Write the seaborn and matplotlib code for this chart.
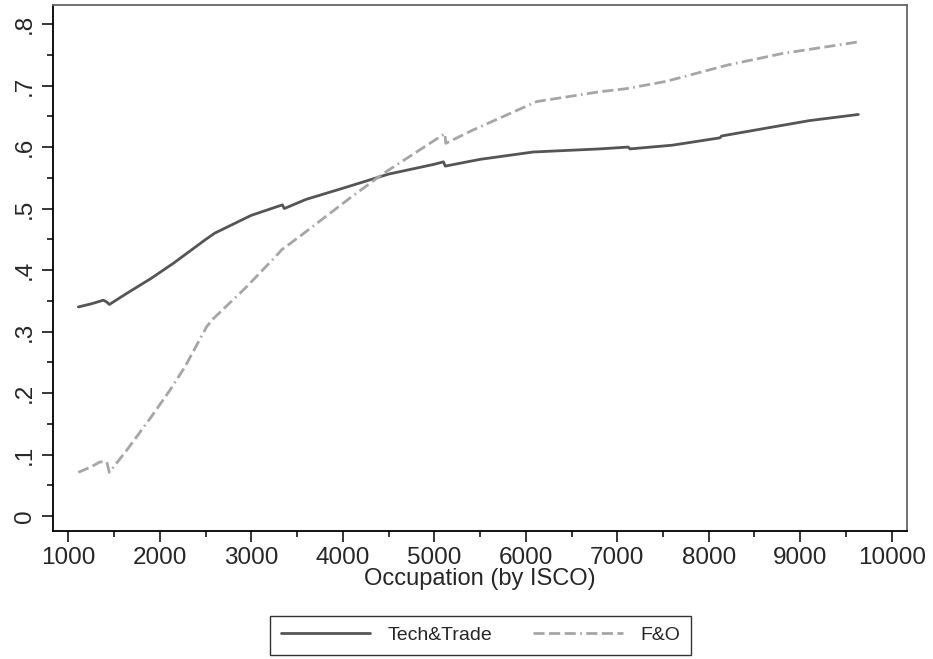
import numpy as np
import pandas as pd
import seaborn as sns
import matplotlib.pyplot as plt
from matplotlib.ticker import MultipleLocator, FuncFormatter

# values
tech_x = [1109, 1250, 1383, 1420, 1448, 1638, 1900, 2148, 2494, 2600, 3000, 3340,
          3360, 3600, 4000, 4500, 5000, 5100, 5120, 5500, 6083, 6810, 7120, 7140,
          7600, 8123, 8140, 8600, 9100, 9635]
tech_y = [0.340, 0.345, 0.351, 0.348, 0.344, 0.362, 0.386, 0.411, 0.449, 0.460,
          0.489, 0.506, 0.500, 0.515, 0.533, 0.556, 0.572, 0.576, 0.569, 0.580,
          0.592, 0.597, 0.600, 0.597, 0.603, 0.615, 0.618, 0.630, 0.643, 0.653]

fo_x = [1109, 1250, 1346, 1420, 1448, 1638, 1900, 2112, 2276, 2512, 2585, 2950,
        3278, 3332, 3532, 4077, 4443, 5117, 5125, 5427, 6120, 6810, 7103, 7540,
        8196, 8800, 9635]
fo_y = [0.071, 0.080, 0.088, 0.088, 0.071, 0.107, 0.160, 0.205, 0.243, 0.308,
        0.321, 0.373, 0.424, 0.433, 0.455, 0.517, 0.557, 0.622, 0.606, 0.628,
        0.674, 0.690, 0.695, 0.707, 0.733, 0.752, 0.771]

series_names = ["Tech&Trade", "F&O"]
x_ticks = list(range(1000, 10001, 1000))
y_ticks = [0, 0.1, 0.2, 0.3, 0.4, 0.5, 0.6, 0.7, 0.8]

df = pd.concat([
    pd.DataFrame({"isco": tech_x, "value": tech_y, "group": series_names[0]}),
    pd.DataFrame({"isco": fo_x, "value": fo_y, "group": series_names[1]}),
])

sns.set_style("ticks")
plt.rcParams["font.family"] = ["Liberation Sans", "DejaVu Sans"]

fig = plt.figure(figsize=(9.33, 6.59), dpi=100)
ax = fig.add_axes([0.0565, 0.1942, 0.9153, 0.7982])

sns.lineplot(
    df, x="isco", y="value", hue="group", style="group",
    palette={"Tech&Trade": "#555555", "F&O": "#a6a6a6"},
    dashes={"Tech&Trade": "", "F&O": (4, 1.6, 4, 1.6, 4, 1.6, 0.6, 1.6)},
    estimator=None, linewidth=2.0, ax=ax, legend=True,
)

ax.set_xlim(829, 10164)
ax.set_ylim(-0.0244, 0.831)
ax.set_xticks(x_ticks)
ax.xaxis.set_minor_locator(MultipleLocator(500))
ax.set_yticks(y_ticks)
ax.yaxis.set_minor_locator(MultipleLocator(0.05))
ax.yaxis.set_major_formatter(FuncFormatter(lambda v, p: "0" if abs(v) < 1e-9 else f"{v:.1f}".lstrip("0")))

ax.tick_params(axis="both", which="major", length=8, width=1.1, color="black",
               labelsize=17.5, direction="out")
ax.tick_params(axis="both", which="minor", length=4.5, width=1.1, color="black",
               direction="out")
ax.tick_params(axis="y", labelrotation=90, pad=4)
for lab in ax.get_yticklabels():
    lab.set_va("center")

ax.set_xlabel("Occupation (by ISCO)", fontsize=17, labelpad=-1)
ax.set_ylabel("")

for side in ["left", "bottom"]:
    ax.spines[side].set_color("black")
    ax.spines[side].set_linewidth(1.3)
for side in ["top", "right"]:
    ax.spines[side].set_color("#666666")
    ax.spines[side].set_linewidth(1.3)

handles, labels = ax.get_legend_handles_labels()
ax.get_legend().remove()
leg = fig.legend(
    handles, labels, loc="center", bbox_to_anchor=(0.515, 0.0364), ncol=2,
    fontsize=14, frameon=True, fancybox=False, edgecolor="black",
    handlelength=4.6, handletextpad=0.9, columnspacing=2.1, borderpad=0.55,
    borderaxespad=0,
)
leg.get_frame().set_linewidth(1.0)

fig.savefig("out.png", dpi=100)
